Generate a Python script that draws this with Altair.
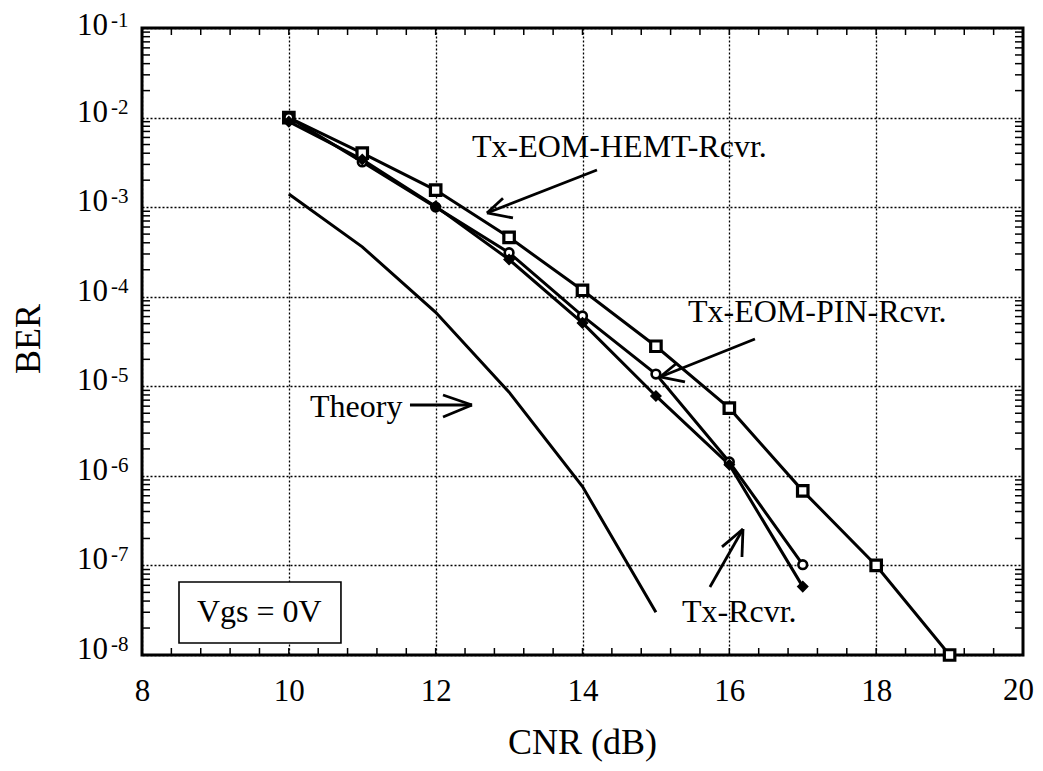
import altair as alt
import pandas as pd

# ---------------- data ----------------
cnr_hemt = [10, 11, 12, 13, 14, 15, 16, 17, 18, 19]
ber_hemt = [1.0e-2, 4.0e-3, 1.55e-3, 4.6e-4, 1.18e-4, 2.8e-5, 5.7e-6, 6.8e-7, 1.0e-7, 1.0e-8]

cnr_pin = [10, 11, 12, 13, 14, 15, 16, 17]
ber_pin = [1.0e-2, 3.2e-3, 1.0e-3, 3.1e-4, 6.1e-5, 1.37e-5, 1.43e-6, 1.02e-7]

cnr_tx = [10, 11, 12, 13, 14, 15, 16, 17]
ber_tx = [9.0e-3, 3.4e-3, 1.02e-3, 2.6e-4, 5.1e-5, 7.8e-6, 1.33e-6, 5.8e-8]

cnr_theory = [10, 11, 12, 13, 14, 15]
ber_theory = [1.4e-3, 3.6e-4, 6.7e-5, 8.6e-6, 7.6e-7, 3.0e-8]

x_tick_values = [8, 10, 12, 14, 16, 18]
x_last_label = "20"
y_decades = [1e-1, 1e-2, 1e-3, 1e-4, 1e-5, 1e-6, 1e-7, 1e-8]
y_exponents = ["-1", "-2", "-3", "-4", "-5", "-6", "-7", "-8"]
x_minor = [round(8 + 0.4 * i, 1) for i in range(1, 30)]
y_minor = [m * 10.0 ** e for e in range(-8, -1) for m in range(2, 10)]

# annotations (data units)
ann_text = ["Tx-EOM-HEMT-Rcvr.", "Tx-EOM-PIN-Rcvr.", "Theory", "Tx-Rcvr."]
ann_x = [12.495, 15.437, 10.288, 15.355]
ann_y = [3.63e-3, 5.22e-5, 4.54e-6, 2.33e-8]

arrow_tail_x = [14.197, 16.349, 11.650, 15.736]
arrow_tail_y = [2.60e-3, 3.37e-5, 6.18e-6, 5.74e-8]
arrow_head_x = [12.699, 15.055, 12.495, 16.186]
arrow_head_y = [8.61e-4, 1.27e-5, 6.18e-6, 2.55e-7]
barb1_x = [13.053, 15.287, 12.100, 15.900]
barb1_y = [7.57e-4, 1.82e-5, 8.0e-6, 1.61e-7]
barb2_x = [12.917, 15.396, 12.100, 16.172]
barb2_y = [1.26e-3, 1.12e-5, 4.54e-6, 1.24e-7]

box_text = "Vgs = 0V"
box_x = [8.504, 10.710]
box_y = [1.36e-8, 6.53e-8]
box_text_x = 8.749
box_text_y = 2.33e-8

# ---------------- layout / style ----------------
FONT = "Liberation Serif"
W, H = 881, 627

xs = alt.Scale(domain=[8, 20], nice=False, zero=False)
ys = alt.Scale(type="log", domain=[1e-8, 1e-1], nice=False)

x_axis = alt.Axis(values=x_tick_values, grid=True, gridDash=[2, 2], gridColor="black",
                  gridWidth=1.3, ticks=False, domain=False, labelFont=FONT,
                  labelFontSize=31, labelPadding=21, labelColor="black",
                  labelFlush=False, title=None)
y_axis = alt.Axis(values=y_decades, grid=True, gridDash=[2, 2], gridColor="black",
                  gridWidth=1.3, ticks=False, domain=False, labels=False, title=None)

X = lambda: alt.X("x:Q", scale=xs, axis=x_axis)
Y = lambda: alt.Y("y:Q", scale=ys, axis=y_axis)

df_hemt = pd.DataFrame({"x": cnr_hemt, "y": ber_hemt})
df_pin = pd.DataFrame({"x": cnr_pin, "y": ber_pin})
df_tx = pd.DataFrame({"x": cnr_tx, "y": ber_tx})
df_th = pd.DataFrame({"x": cnr_theory, "y": ber_theory})


def series_line(df, width=3):
    return alt.Chart(df).mark_line(color="black", strokeWidth=width).encode(x=X(), y=Y())

theory_line = series_line(df_th, 3)
hemt_line = series_line(df_hemt, 3)
pin_line = series_line(df_pin, 3)
tx_line = series_line(df_tx, 3)

hemt_pts = alt.Chart(df_hemt).mark_point(shape="square", filled=True, fill="white",
                                         stroke="black", strokeWidth=3.2, size=110, opacity=1).encode(
    x=X(), y=Y())
pin_pts = alt.Chart(df_pin).mark_point(shape="circle", filled=True, fill="white",
                                       stroke="black", strokeWidth=2.6, size=75, opacity=1).encode(
    x=X(), y=Y())
tx_pts = alt.Chart(df_tx).mark_point(shape="diamond", filled=True, fill="black",
                                     stroke="black", strokeWidth=1.5, size=100, opacity=1).encode(
    x=X(), y=Y())

# minor ticks (inward)
df_xm = pd.DataFrame({"x": x_minor})
df_ym = pd.DataFrame({"y": y_minor})
tick_b = alt.Chart(df_xm).mark_rule(color="black", strokeWidth=1.5).encode(
    x=X(), y=alt.value(H), y2=alt.value(H - 7))
tick_t = alt.Chart(df_xm).mark_rule(color="black", strokeWidth=1.5).encode(
    x=X(), y=alt.value(0), y2=alt.value(7))
tick_l = alt.Chart(df_ym).mark_rule(color="black", strokeWidth=1.5).encode(
    y=Y(), x=alt.value(0), x2=alt.value(8))
tick_r = alt.Chart(df_ym).mark_rule(color="black", strokeWidth=1.5).encode(
    y=Y(), x=alt.value(W), x2=alt.value(W - 8))

# last x tick label, kept inside the page edge
xlab_last = alt.Chart(pd.DataFrame({"t": [x_last_label]})).mark_text(
    font=FONT, fontSize=31, align="right", baseline="top", color="black").encode(
    x=alt.value(W + 11), y=alt.value(H + 21), text="t:N")

# y tick labels with superscript exponents (top one nudged to stay inside the page)
df_yl = pd.DataFrame({"y": y_decades[1:], "e": y_exponents[1:]})
df_yl_top = pd.DataFrame({"y": y_decades[:1], "e": y_exponents[:1]})


def ylabels(df, shift):
    base = alt.Chart(df).mark_text(font=FONT, fontSize=31, align="right",
                                   baseline="alphabetic", dy=4 + shift, color="black").encode(
        y=Y(), x=alt.value(-34), text=alt.value("10"))
    exp = alt.Chart(df).mark_text(font=FONT, fontSize=21, align="left",
                                  baseline="alphabetic", dy=-4 + shift, color="black").encode(
        y=Y(), x=alt.value(-31), text="e:N")
    return [base, exp]

ylab_layers = ylabels(df_yl, 0) + ylabels(df_yl_top, 3)

# axis titles
xtitle = alt.Chart(pd.DataFrame({"t": ["CNR (dB)"]})).mark_text(
    font=FONT, fontSize=36, align="center", baseline="alphabetic", color="black").encode(
    x=alt.value(W / 2), y=alt.value(726), text="t:N")
ytitle = alt.Chart(pd.DataFrame({"t": ["BER"]})).mark_text(
    font=FONT, fontSize=36, align="center", baseline="alphabetic", angle=270, color="black").encode(
    x=alt.value(-102), y=alt.value(311), text="t:N")

# annotation box
df_box = pd.DataFrame({"x": [box_x[0]], "x2": [box_x[1]], "y": [box_y[0]], "y2": [box_y[1]]})
box = alt.Chart(df_box).mark_rect(fill="white", stroke="black", strokeWidth=1.6).encode(
    x=X(), x2="x2:Q", y=Y(), y2="y2:Q")
box_lbl = alt.Chart(pd.DataFrame({"x": [box_text_x], "y": [box_text_y], "t": [box_text]})).mark_text(
    font=FONT, fontSize=32, align="left", baseline="alphabetic", color="black").encode(
    x=X(), y=Y(), text="t:N")

# annotation texts
df_ann = pd.DataFrame({"x": ann_x, "y": ann_y, "t": ann_text})
ann = alt.Chart(df_ann).mark_text(font=FONT, fontSize=32, align="left",
                                  baseline="alphabetic", color="black").encode(
    x=X(), y=Y(), text="t:N")

# arrows
rows = []
for i in range(len(arrow_tail_x)):
    hx, hy = arrow_head_x[i], arrow_head_y[i]
    for j, (sx, sy) in enumerate([(arrow_tail_x[i], arrow_tail_y[i]),
                                  (barb1_x[i], barb1_y[i]),
                                  (barb2_x[i], barb2_y[i])]):
        seg = f"a{i}s{j}"
        rows.append({"seg": seg, "o": 0, "x": sx, "y": sy})
        rows.append({"seg": seg, "o": 1, "x": hx, "y": hy})
df_arr = pd.DataFrame(rows)
arrows = alt.Chart(df_arr).mark_line(color="black", strokeWidth=2.8).encode(
    x=X(), y=Y(), detail="seg:N", order="o:Q")

chart = alt.layer(
    theory_line, tick_b, tick_t, tick_l, tick_r,
    hemt_line, pin_line, tx_line,
    hemt_pts, pin_pts, tx_pts,
    box, box_lbl, ann, arrows,
    *ylab_layers, xlab_last, xtitle, ytitle,
).properties(
    width=W, height=H,
    autosize=alt.AutoSizeParams(type="none"),
    padding={"left": 134, "top": 20, "right": 12, "bottom": 108},
    background="white",
).configure_view(stroke="black", strokeWidth=3)

chart.save("out.html", embed_options={"renderer": "svg", "actions": False})
